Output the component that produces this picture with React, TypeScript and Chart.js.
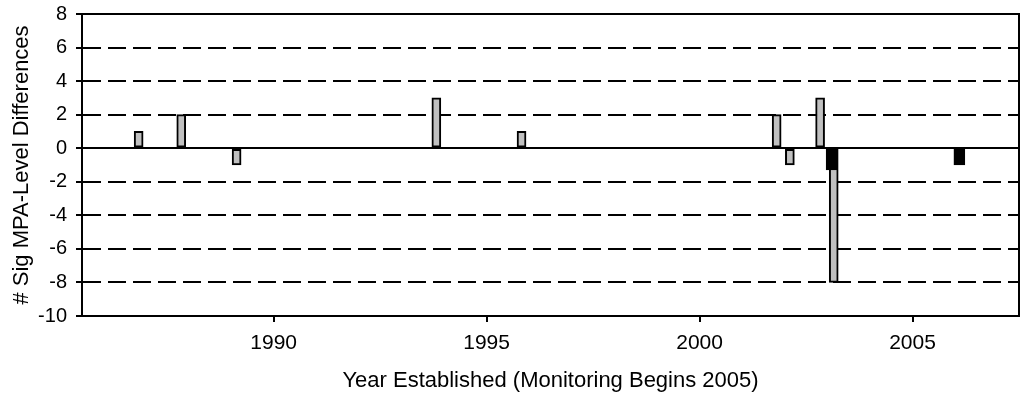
import React, { useEffect, useRef } from "react";
import { Chart, registerables } from "chart.js";

Chart.register(...registerables);

// Gray series (year established, # significant differences)
const grayYears = [1986.83, 1987.83, 1989.13, 1993.82, 1995.82, 2001.81, 2002.12, 2002.83, 2003.15];
const grayValues = [1, 2, -1, 3, 1, 2, -1, 3, -8];
// Black series
const blackYears = [2003.1, 2006.1];
const blackValues = [-1.3, -1];

const xTickValues = [1990, 1995, 2000, 2005];
const xMin = 1985.5;
const xMax = 2007.5;
const yMin = -10;
const yMax = 8;
const yStep = 2;

const FONT = "'Liberation Sans', Arial, sans-serif";

export default function App() {
  const ref = useRef<HTMLCanvasElement | null>(null);

  useEffect(() => {
    if (!ref.current) return;
    const frame = {
      id: "frame",
      afterDraw(chart: any) {
        const { ctx, chartArea: a } = chart;
        ctx.save();
        ctx.strokeStyle = "#000";
        ctx.lineWidth = 2;
        ctx.setLineDash([]);
        ctx.strokeRect(a.left, a.top, a.right - a.left, a.bottom - a.top);
        ctx.restore();
      },
    };
    const chart = new Chart(ref.current, {
      type: "bar",
      data: {
        datasets: [
          {
            label: "black",
            data: blackYears.map((x, i) => ({ x, y: blackValues[i] })),
            backgroundColor: "#000000",
            borderColor: "#000000",
            borderWidth: 1,
            borderSkipped: false,
            barThickness: 11,
            grouped: false,
            order: 0,
          } as any,
          {
            label: "gray",
            data: grayYears.map((x, i) => ({ x, y: grayValues[i] })),
            backgroundColor: "#c0c0c0",
            borderColor: "#000000",
            borderWidth: 2,
            borderSkipped: false,
            barThickness: 9,
            grouped: false,
            order: 1,
          } as any,
        ],
      },
      plugins: [frame],
      options: {
        animation: false,
        responsive: true,
        maintainAspectRatio: false,
        layout: { padding: { top: 14, right: 5, left: 0, bottom: 0 } },
        plugins: { legend: { display: false }, tooltip: { enabled: false } },
        scales: {
          x: {
            type: "linear",
            min: xMin,
            max: xMax,
            offset: false,
            afterFit: (s: any) => {
              s.height = 81;
              s.paddingLeft = 0;
              s.paddingRight = 0;
            },
            afterBuildTicks: (s: any) => {
              s.ticks = xTickValues.map((v) => ({ value: v }));
            },
            grid: {
              offset: false,
              drawOnChartArea: false,
              drawTicks: true,
              tickLength: 6,
              lineWidth: 2,
              color: "#000",
            },
            border: { display: true, color: "#000", width: 2 },
            ticks: {
              color: "#000",
              font: { family: FONT, size: 21 },
              padding: 9,
              maxRotation: 0,
              callback: (v: any) => String(v),
            },
            title: {
              display: true,
              text: "Year Established (Monitoring Begins 2005)",
              color: "#000",
              font: { family: FONT, size: 22 },
              padding: { top: 0, bottom: 3 },
            },
          },
          y: {
            min: yMin,
            max: yMax,
            afterFit: (s: any) => {
              s.width = 82;
              s.paddingTop = 0;
              s.paddingBottom = 0;
            },
            grid: {
              drawOnChartArea: true,
              drawTicks: true,
              tickLength: 6,
              lineWidth: 2,
              color: "#000",
            },
            border: {
              display: true,
              color: "#000",
              width: 2,
              dash: (ctx: any) => (ctx.tick && ctx.tick.value !== 0 ? [18, 7] : []),
            } as any,
            ticks: {
              stepSize: yStep,
              color: "#000",
              font: { family: FONT, size: 20 },
              padding: 9,
            },
            title: {
              display: true,
              text: "# Sig MPA-Level Differences",
              color: "#000",
              font: { family: FONT, size: 22 },
              padding: { top: 9, bottom: 0 },
            },
          },
        },
      } as any,
    });
    return () => chart.destroy();
  }, []);

  return (
    <div style={{ position: "absolute", left: 0, top: 0, width: 1024, height: 397, background: "#fff" }}>
      <canvas ref={ref} />
    </div>
  );
}
